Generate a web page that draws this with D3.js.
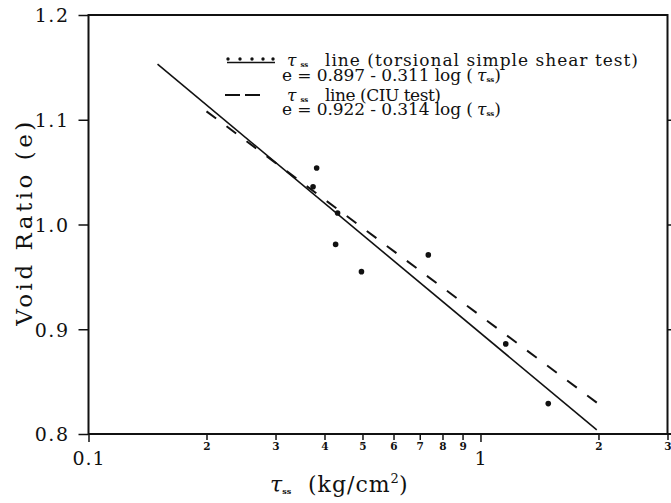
<!DOCTYPE html>
<html>
<head>
<meta charset="utf-8">
<script src="https://cdn.jsdelivr.net/npm/d3@7"></script>
<style>
  html, body { margin: 0; padding: 0; background: #fff; }
  svg { display: block; }
  text { font-family: "DejaVu Serif", serif; fill: #111; }
</style>
</head>
<body>
<svg id="chart" width="671" height="503"></svg>
<script>
// measured points: tau_ss (kg/cm2) against void ratio e
const tauValues = [0.382, 0.374, 0.432, 0.427, 0.497, 0.736, 1.16, 1.489]
const voidRatios = [1.054, 1.036, 1.011, 0.981, 0.955, 0.971, 0.886, 0.829]

// fitted lines as drawn, [tau, e] end points
const torsionalLine = [[0.15, 1.153], [1.98, 0.804]]
const ciuLine = [[0.2, 1.108], [1.98, 0.830]]

const yTicks = [0.8, 0.9, 1.0, 1.1, 1.2]
const yTickLabels = ["0.8", "0.9", "1.0", "1.1", "1.2"]
const xMajorTicks = [0.1, 1]
const xMajorLabels = ["0.1", "1"]
const xMinorTicks = [0.2, 0.3, 0.4, 0.5, 0.6, 0.7, 0.8, 0.9, 2, 3]
const xMinorLabels = ["2", "3", "4", "5", "6", "7", "8", "9", "2", "3"]
const legendTitles = ["line (torsional simple shear test)", "line (CIU test)"]
const legendEquations = ["e = 0.897 - 0.311 log (", "e = 0.922 - 0.314 log ("]

const svg = d3.select("#chart")

const x = d3.scaleLog().domain([0.1, 3]).range([88.5, 667.5])
const y = d3.scaleLinear().domain([0.8, 1.2]).range([434, 15])

// minor ticks with small bold digits
const minorAxis = svg.append("g")
  .attr("transform", `translate(0,${y(0.8)})`)
  .call(d3.axisBottom(x).tickValues(xMinorTicks).tickSize(6).tickPadding(3)
    .tickFormat((d, i) => xMinorLabels[i]).tickSizeOuter(0))
minorAxis.select(".domain").remove()
minorAxis.selectAll("text").attr("font-size", 10.5).attr("font-weight", "bold")
  .style("font-family", "DejaVu Serif")

const majorAxis = svg.append("g")
  .attr("transform", `translate(0,${y(0.8)})`)
  .call(d3.axisBottom(x).tickValues(xMajorTicks).tickSize(8).tickPadding(10)
    .tickFormat((d, i) => xMajorLabels[i]).tickSizeOuter(0))
majorAxis.select(".domain").remove()
majorAxis.selectAll("text").attr("font-size", 19).attr("letter-spacing", 1)
  .style("font-family", "DejaVu Serif")

const leftAxis = svg.append("g")
  .attr("transform", `translate(${x(0.1)},0)`)
  .call(d3.axisLeft(y).tickValues(yTicks).tickSize(10).tickPadding(9)
    .tickFormat((d, i) => yTickLabels[i]).tickSizeOuter(0))
leftAxis.select(".domain").remove()
leftAxis.selectAll("text").attr("font-size", 19).attr("letter-spacing", 1.5)
  .attr("dy", "0.36em")
  .style("font-family", "DejaVu Serif")

const rightAxis = svg.append("g")
  .attr("transform", `translate(${x(3)},0)`)
  .call(d3.axisRight(y).tickValues([0.9, 1.0, 1.1]).tickSize(4).tickFormat("").tickSizeOuter(0))
rightAxis.select(".domain").remove()

svg.selectAll(".tick line").attr("stroke", "#111").attr("stroke-width", 1.5)

// frame
svg.append("rect")
  .attr("x", x(0.1)).attr("y", y(1.2))
  .attr("width", x(3) - x(0.1)).attr("height", y(0.8) - y(1.2))
  .attr("fill", "none").attr("stroke", "#111").attr("stroke-width", 2)
svg.append("line")
  .attr("x1", x(3)).attr("x2", 671).attr("y1", y(0.8)).attr("y2", y(0.8))
  .attr("stroke", "#111").attr("stroke-width", 2)

const line = d3.line().x(d => x(d[0])).y(d => y(d[1]))

svg.append("path").datum(torsionalLine)
  .attr("d", line).attr("fill", "none")
  .attr("stroke", "#111").attr("stroke-width", 1.6)

svg.append("path").datum(ciuLine)
  .attr("d", line).attr("fill", "none")
  .attr("stroke", "#111").attr("stroke-width", 2)
  .attr("stroke-dasharray", "12,13")

svg.append("g").selectAll("circle")
  .data(tauValues)
  .join("circle")
  .attr("cx", d => x(d))
  .attr("cy", (d, i) => y(voidRatios[i]))
  .attr("r", 2.8)
  .attr("fill", "#111")

// axis titles
svg.append("text")
  .attr("transform", "translate(32,222) rotate(-90)")
  .attr("text-anchor", "middle")
  .attr("font-size", 23)
  .attr("letter-spacing", 3.5)
  .text("Void Ratio (e)")

const xTitle = svg.append("text").attr("x", 270).attr("y", 492).attr("font-size", 22)
xTitle.append("tspan").attr("font-style", "italic").text("τ")
xTitle.append("tspan").attr("font-size", 8).attr("font-weight", "bold").attr("dy", 2).text("ss")
xTitle.append("tspan").attr("x", 308).attr("dy", -2).attr("letter-spacing", 1).text("(kg/cm")
xTitle.append("tspan").attr("font-size", 13).attr("dy", -9).text("2")
xTitle.append("tspan").attr("dy", 9).text(")")

// legend
const legend = svg.append("g")

legend.append("line")
  .attr("x1", 227).attr("x2", 275).attr("y1", 62.5).attr("y2", 62.5)
  .attr("stroke", "#111").attr("stroke-width", 1.3)
legend.selectAll(".dot")
  .data([228, 240, 252, 263, 273])
  .join("circle")
  .attr("cx", d => d).attr("cy", 59).attr("r", 1.7).attr("fill", "#111")

legend.append("line")
  .attr("x1", 225).attr("x2", 260).attr("y1", 95).attr("y2", 95)
  .attr("stroke", "#111").attr("stroke-width", 2)
  .attr("stroke-dasharray", "15,5")

const rowBase = [66, 100.5]
const eqBase = [80.5, 115]
const titleLength = [313, 116]

legendTitles.forEach((title, i) => {
  const sym = legend.append("text").attr("x", 287).attr("y", rowBase[i]).attr("font-size", 17)
  sym.append("tspan").attr("font-style", "italic").text("τ")
  sym.append("tspan").attr("font-size", 7).attr("font-weight", "bold").attr("dy", 1).attr("dx", 4).text("ss")

  legend.append("text")
    .attr("x", 325).attr("y", rowBase[i])
    .attr("font-size", 17)
    .attr("textLength", titleLength[i]).attr("lengthAdjust", "spacing")
    .text(title)

  legend.append("text")
    .attr("x", 282).attr("y", eqBase[i])
    .attr("font-size", 17)
    .attr("textLength", 191).attr("lengthAdjust", "spacing")
    .text(legendEquations[i])

  const eq = legend.append("text").attr("x", 477).attr("y", eqBase[i]).attr("font-size", 17)
  eq.append("tspan").attr("font-style", "italic").text("τ")
  eq.append("tspan").attr("font-size", 7).attr("font-weight", "bold").attr("dy", 1).text("ss")
  eq.append("tspan").attr("dy", -1).text(")")
})
</script>
</body>
</html>
